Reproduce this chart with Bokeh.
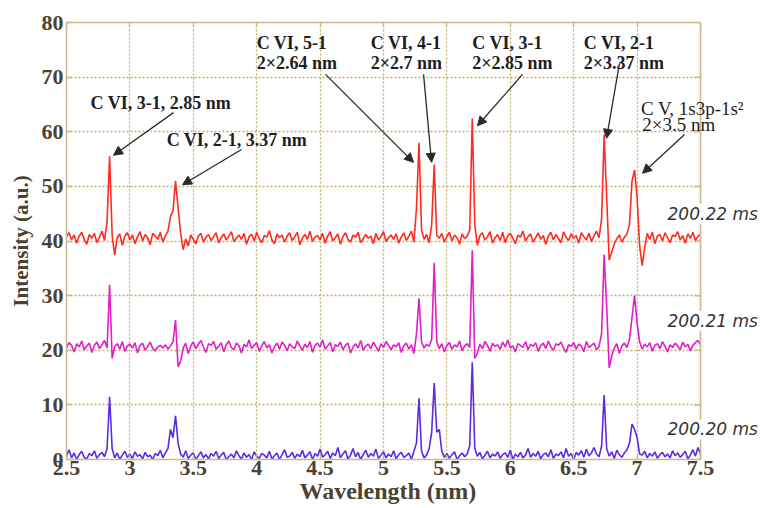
from bokeh.plotting import figure
from bokeh.models import (FixedTicker, LinearAxis, Label, Arrow, NormalHead,
                          ColumnDataSource, Span, Title)
from bokeh.embed import file_html
from bokeh.resources import INLINE
import numpy as np

# ---- data -------------------------------------------------------------
wl_start = 2.5
wl_step = 0.02

red_2022 = [
    0.8, 1.5, 0.2, 1.1, -0.4, 0.9, 1.6, 0.3, -0.6, 1.2,
    0.5, 1.4, -0.3, 0.7, 1.8, 0.1, 3.5, 15.5, 1.0, -2.6,
    0.6, 1.3, -0.8, 0.9, 1.5, 0.2, 1.1, -0.5, 0.8, 1.7,
    0.0, 1.2, 0.6, -0.7, 1.4, 0.9, 0.3, 1.6, -0.2, 1.0,
    1.8, 4.5, 5.5, 11.0, 6.0, 1.5, -1.6, 0.4, -0.9, 1.1,
    0.3, -0.5, 0.9, 1.4, -0.2, 0.7, 1.2, 0.1, 0.8, 1.5,
    -0.4, 0.6, 1.3, 0.2, 0.9, 1.7, -0.1, 0.5, 1.1, 0.3,
    1.4, -0.6, 0.8, 1.2, 0.0, 1.6, 0.4, -0.3, 1.0, 0.7,
    1.9, 0.2, -0.5, 1.3, 0.6, 1.1, -0.2, 0.9, 1.5, 0.1,
    0.8, 1.6, -0.7, 0.5, 1.2, 0.3, 1.8, -0.1, 0.7, 1.0,
    0.2, 1.4, -0.4, 0.9, 1.7, 0.0, 0.6, 1.3, -0.6, 0.8,
    1.5, 0.3, -0.2, 1.1, 0.7, 1.6, -0.3, 0.4, 1.2, 0.5,
    0.9, -0.5, 1.4, 0.2, 0.8, 1.7, -0.1, 0.6, 1.1, 0.3,
    1.3, -0.4, 0.7, 1.5, 0.1, 0.9, 1.8, -0.2, 6.0, 18.0,
    2.0, 0.3, 1.2, -0.3, 3.0, 14.0, 1.0, 0.5, 1.4, -0.2,
    0.8, 1.6, 0.0, 1.1, 0.6, -0.6, 1.3, 0.4, 0.9, 2.0,
    22.4, 3.0, -0.8, 1.0, 1.5, 0.2, 0.8, 1.7, -0.4, 0.6,
    1.2, 0.1, 1.6, -0.3, 0.9, 1.4, 0.5, -0.5, 1.1, 0.7,
    1.8, 0.0, 0.8, 1.3, -0.2, 0.6, 1.5, 0.3, 1.0, -0.6,
    0.9, 1.6, 0.2, 1.2, 0.4, -0.3, 1.7, 0.7, 0.1, 1.3,
    0.5, 1.0, -0.4, 1.5, 0.8, 0.2, 1.4, -0.1, 0.9, 1.8,
    0.6, 4.0, 19.5, 8.0, -3.5, -2.0, -0.5, 0.4, 1.1, -0.2,
    0.7, 1.3, 3.0, 11.0, 13.0, 8.0, -1.0, -4.5, -1.2, 1.4,
    0.3, 1.6, -0.5, 0.9, 1.2, 0.0, 1.5, 0.6, -0.3, 1.1,
    0.8, 1.7, 0.2, 1.0, -0.4, 1.3, 0.5, 1.6, 0.1, 0.9,
    1.2,
]

magenta_2021 = [
    0.5, 1.4, 0.9, -0.3, 1.2, 0.6, 1.7, 0.1, 0.8, 1.3,
    -0.4, 0.9, 1.5, 0.3, 1.0, 1.8, 0.4, 12.0, -1.5, 0.7,
    1.2, 0.2, 1.6, -0.2, 0.8, 1.1, 0.4, 1.4, -0.5, 0.9,
    1.3, 0.0, 0.7, 1.5, 0.3, -0.1, 0.6, 0.9, 0.4, 1.0,
    0.2, 0.8, 1.5, 5.5, -3.0, -2.0, 0.4, 1.3, -0.6, 0.8,
    1.5, 0.3, 1.1, 1.8, 0.6, -0.4, 1.2, 0.9, 1.6, 0.2,
    0.7, 1.4, -0.3, 1.0, 1.7, 0.5, 0.1, 1.3, 0.8, -0.5,
    1.1, 0.6, 1.9, 0.3, 0.9, 1.4, -0.2, 0.8, 1.6, 0.4,
    1.0, -0.5, 0.7, 1.3, 0.2, 1.5, 0.9, -0.1, 1.2, 0.6,
    0.3, 1.7, 0.8, 0.0, 1.1, 0.5, 1.6, -0.4, 0.9, 1.3,
    0.6, 1.9, 0.2, 0.8, 1.4, -0.3, 1.0, 0.7, 1.5, 0.1,
    0.9, 1.3, -0.5, 0.6, 1.2, 0.4, 1.8, 0.0, 0.8, 1.1,
    0.3, 1.5, 0.7, -0.2, 1.2, 0.5, 1.6, 0.9, 0.1, 1.0,
    0.6, 1.4, -0.4, 0.8, 1.3, 0.2, 1.0, -0.6, 3.0, 9.5,
    1.5, 0.4, 1.1, 0.7, 2.0, 16.0, 1.5, 0.3, 1.2, -0.3,
    0.9, 1.4, 0.2, 1.0, 0.6, 1.7, -0.1, 0.8, 1.2, 0.5,
    18.3, -1.5, -0.5, 1.1, 0.3, 1.6, 0.9, -0.2, 1.3, 0.7,
    1.0, 0.2, 1.5, 0.6, 1.9, 0.4, 0.8, -0.3, 1.2, 0.9,
    0.5, 1.6, 0.1, 1.1, 0.7, 1.4, -0.2, 0.8, 1.3, 0.3,
    1.7, 0.6, 0.0, 1.2, 0.9, 1.5, 0.4, -0.4, 1.0, 0.7,
    1.4, 0.2, 1.1, 0.8, -0.3, 1.6, 0.5, 0.9, 1.3, 0.1,
    0.7, 3.0, 17.5, 8.0, -3.2, -1.0, 0.4, 1.2, -0.6, 0.8,
    1.3, 0.5, 2.0, 6.0, 10.0, 5.0, 1.5, 0.2, 1.1, 0.6,
    1.4, -0.2, 0.9, 1.2, 0.3, 1.6, 0.7, -0.3, 1.0, 0.5,
    1.3, 0.8, 0.1, 1.5, 0.6, 1.1, -0.1, 0.9, 1.4, 1.8,
    1.0,
]

blue_2020 = [
    0.6, 1.8, 0.3, 1.2, 0.0, 0.9, 1.5, 0.4, 0.1, 1.1,
    0.7, 1.6, 0.2, 0.9, 1.3, 0.5, 2.0, 11.5, 2.0, 0.3,
    1.2, 0.0, 0.8, 1.5, 0.4, 1.0, 0.2, 1.4, 0.6, 0.9,
    0.1, 1.3, 0.5, 0.8, 0.0, 1.1, 0.7, 1.7, 0.3, 1.2,
    2.0, 5.5, 4.0, 8.0, 3.0, 1.0, 0.4, 1.6, 0.2, 0.8,
    1.2, 0.0, 0.7, 1.4, 0.3, 0.9, 0.1, 1.1, 0.6, 1.5,
    0.2, 0.8, 1.3, 0.0, 0.5, 1.0, 0.3, 1.6, 0.7, 0.1,
    1.2, 0.4, 0.9, 0.0, 1.4, 0.6, 0.2, 1.1, 0.8, 0.3,
    1.5, 0.1, 0.7, 1.2, 0.0, 0.9, 1.8, 0.4, 0.6, 1.3,
    0.2, 1.0, 0.5, 1.7, 0.3, 0.8, 1.4, 0.0, 1.1, 0.6,
    1.9, 0.4, 0.9, 1.5, 0.2, 1.2, 0.7, 2.2, 0.3, 1.0,
    1.6, 0.1, 0.8, 2.0, 0.5, 1.3, 0.0, 0.9, 1.7, 0.4,
    1.1, 0.6, 1.9, 0.2, 0.8, 1.4, 0.3, 1.0, 0.5, 1.6,
    0.1, 0.9, 1.3, 0.4, 0.7, 1.2, 0.0, 1.5, 3.0, 11.2,
    1.5, 0.3, 0.8, 2.0, 5.0, 14.0, 5.0, 5.5, 1.5, 0.4,
    1.1, 0.2, 0.9, 1.4, 0.0, 0.7, 1.2, 0.5, 1.0, 2.5,
    17.8, 2.0, 0.6, 1.3, 0.1, 0.8, 1.5, 0.3, 1.0, 0.6,
    1.4, 0.2, 0.9, 1.2, 0.4, 1.7, 0.0, 1.0, 0.5, 1.3,
    0.3, 0.8, 2.0, 0.4, 1.1, 0.6, 1.5, 0.1, 0.9, 1.2,
    0.5, 1.8, 0.2, 1.0, 0.7, 1.4, 0.3, 2.0, 0.6, 1.1,
    0.0, 1.3, 0.8, 1.6, 0.4, 1.9, 0.7, 1.2, 2.2, 1.0,
    0.5, 2.5, 11.8, 2.0, 0.6, 1.4, 0.2, 1.7, 0.9, 0.4,
    1.2, 1.8, 3.0, 6.5, 5.5, 4.0, 1.0, 0.8, 1.5, 0.3,
    1.1, 0.6, 1.4, 0.2, 0.9, 1.3, 0.5, 1.0, 0.3, 1.6,
    0.7, 1.2, 0.4, 0.9, 1.5, 0.1, 0.8, 1.8, 0.6, 2.2,
    1.0,
]

series_values = [red_2022, magenta_2021, blue_2020]
series_offsets = [40, 20, 0]
series_colors = ["#ff2b22", "#e01fc8", "#5b2ae6"]
series_names = ["200.22 ms", "200.21 ms", "200.20 ms"]
series_label_pos = [(7.24, 45.0), (7.24, 25.4), (7.24, 5.5)]

x_ticks = [2.5, 3, 3.5, 4, 4.5, 5, 5.5, 6, 6.5, 7, 7.5]
x_tick_labels = ["2.5", "3", "3.5", "4", "4.5", "5", "5.5", "6", "6.5", "7", "7.5"]
y_ticks = [0, 10, 20, 30, 40, 50, 60, 70, 80]
x_title = "Wavelength (nm)"
y_title = "Intensity (a.u.)"

# annotation lines: (text, x_left, y_mid, bold)
annot_text = [
    ("C VI, 3-1, 2.85 nm", 2.69, 65.2, True),
    ("C VI, 2-1, 3.37 nm", 3.29, 58.4, True),
    ("C VI, 5-1", 4.0, 76.2, True),
    ("2\u00d72.64 nm", 4.0, 72.5, True),
    ("C VI, 4-1", 4.9, 76.2, True),
    ("2\u00d72.7 nm", 4.9, 72.5, True),
    ("C VI, 3-1", 5.7, 76.2, True),
    ("2\u00d72.85 nm", 5.7, 72.5, True),
    ("C VI, 2-1", 6.58, 76.2, True),
    ("2\u00d73.37 nm", 6.58, 72.5, True),
    ("C V, 1s3p-1s\u00b2", 7.03, 64.2, False),
    ("2\u00d73.5 nm", 7.04, 61.3, False),
]
# arrows: (x_start, y_start, x_end, y_end)
annot_arrows = [
    (3.344, 63.5, 2.871, 55.7),
    (3.880, 56.75, 3.415, 50.3),
    (4.543, 70.5, 5.237, 54.4),
    (5.316, 70.5, 5.379, 54.4),
    (6.096, 70.5, 5.741, 61.1),
    (6.861, 72.5, 6.759, 58.8),
    (7.374, 59.5, 7.043, 52.4),
]

# ---- figure -----------------------------------------------------------
AX = "#c9b98c"
GRID = "#c2ad6a"
TXT = "#4a4232"
SERIF = "Liberation Serif"

X0, X1, Y0, Y1 = 2.5, 7.5, 0, 80
W, H = 764, 508
BL, BT, BB = 66, 22, 49
BOX_W = 634                       # width of the drawn plot box in px
FRAME_W = W - BL                  # frame runs to the canvas edge so the
X_VIEW_END = X0 + (X1 - X0) * FRAME_W / BOX_W   # right-hand labels can overhang

p = figure(width=W, height=H, x_range=(X0, X_VIEW_END), y_range=(Y0, Y1),
           output_backend="svg", toolbar_location=None,
           min_border_left=BL, min_border_right=0, min_border_top=BT,
           min_border_bottom=BB)
p.background_fill_color = "white"
p.border_fill_color = "white"
p.outline_line_color = None

p.xaxis.ticker = FixedTicker(ticks=x_ticks)
p.yaxis.ticker = FixedTicker(ticks=y_ticks)
p.xaxis.major_label_overrides = {t: l for t, l in zip(x_ticks, x_tick_labels)}
p.xaxis.bounds = (X0, X1)

for ax in (p.xaxis[0], p.yaxis[0]):
    ax.axis_line_color = AX
    ax.axis_line_width = 1.5
    ax.major_tick_line_color = AX
    ax.major_tick_line_width = 1.5
    ax.major_tick_in = 5
    ax.major_tick_out = 0
    ax.minor_tick_line_color = None
    ax.major_label_text_font = SERIF
    ax.major_label_text_font_style = "bold"
    ax.major_label_text_font_size = "22px"
    ax.major_label_text_color = TXT
    ax.axis_label_text_font = SERIF
    ax.axis_label_text_font_style = "bold"
    ax.axis_label_text_color = TXT

p.xaxis.major_label_standoff = 1
p.yaxis.axis_label = y_title
p.yaxis.axis_label_text_font_size = "21px"
p.yaxis.major_label_standoff = 3
p.yaxis.axis_label_standoff = 6

# x-axis title centred under the drawn box (not under the wider frame)
p.add_layout(Title(text=x_title, align="left",
                   offset=BOX_W / 2 - 84, standoff=-4,
                   text_font=SERIF, text_font_style="bold",
                   text_font_size="24px", text_color=TXT), "below")

top = LinearAxis(ticker=FixedTicker(ticks=x_ticks), bounds=(X0, X1),
                 axis_line_color=AX, axis_line_width=1.5,
                 major_tick_line_color=AX, major_tick_line_width=1.5,
                 major_tick_in=4, major_tick_out=0, minor_tick_line_color=None,
                 major_label_text_font_size="0px", major_label_standoff=0)
p.add_layout(top, "above")

p.xgrid.ticker = FixedTicker(ticks=x_ticks)
p.ygrid.ticker = FixedTicker(ticks=y_ticks)
for g in (p.xgrid[0], p.ygrid[0]):
    g.grid_line_color = GRID
    g.grid_line_dash = "2 2"
    g.grid_line_width = 1.3

try:
    p.ygrid.cross_bounds = (X0, X1)
except Exception:
    p.ygrid.visible = False
    p.segment(x0=[X0] * len(y_ticks), x1=[X1] * len(y_ticks), y0=y_ticks,
              y1=y_ticks, line_color=GRID, line_dash="2 2", line_width=1.3)

# right-hand border of the plot box, with inward ticks
p.add_layout(Span(location=X1, dimension="height", line_color=AX,
                  line_width=1.5))
tick_len = (X1 - X0) * 6 / BOX_W
p.segment(x0=[X1 - tick_len] * len(y_ticks), x1=[X1] * len(y_ticks),
          y0=y_ticks, y1=y_ticks, line_color=AX, line_width=1.5)

n = len(red_2022)
wl = wl_start + wl_step * np.arange(n)

for vals, off, col in zip(series_values, series_offsets, series_colors):
    src = ColumnDataSource(dict(x=wl, y=np.array(vals) + off))
    p.line("x", "y", source=src, line_color=col, line_width=1.6)

for txt, lx, ly, bold in annot_text:
    p.add_layout(Label(x=lx, y=ly, text=txt, text_font=SERIF,
                       text_font_style="bold" if bold else "normal",
                       text_font_size="18px" if bold else "19px",
                       text_color="#1e1e1e", text_baseline="middle",
                       text_align="left"))

for xs, ys, xe, ye in annot_arrows:
    p.add_layout(Arrow(x_start=xs, y_start=ys, x_end=xe, y_end=ye,
                       line_color="#2a2a2a", line_width=1.3,
                       end=NormalHead(size=9, fill_color="#2a2a2a",
                                      line_color="#2a2a2a")))

for name, (lx, ly) in zip(series_names, series_label_pos):
    p.add_layout(Label(x=lx, y=ly, text=name, text_font="DejaVu Sans",
                       text_font_style="italic", text_font_size="17px",
                       text_color="#333333", text_baseline="middle",
                       text_align="left", background_fill_color="white"))

open("out.html", "w").write(file_html(p, INLINE))
